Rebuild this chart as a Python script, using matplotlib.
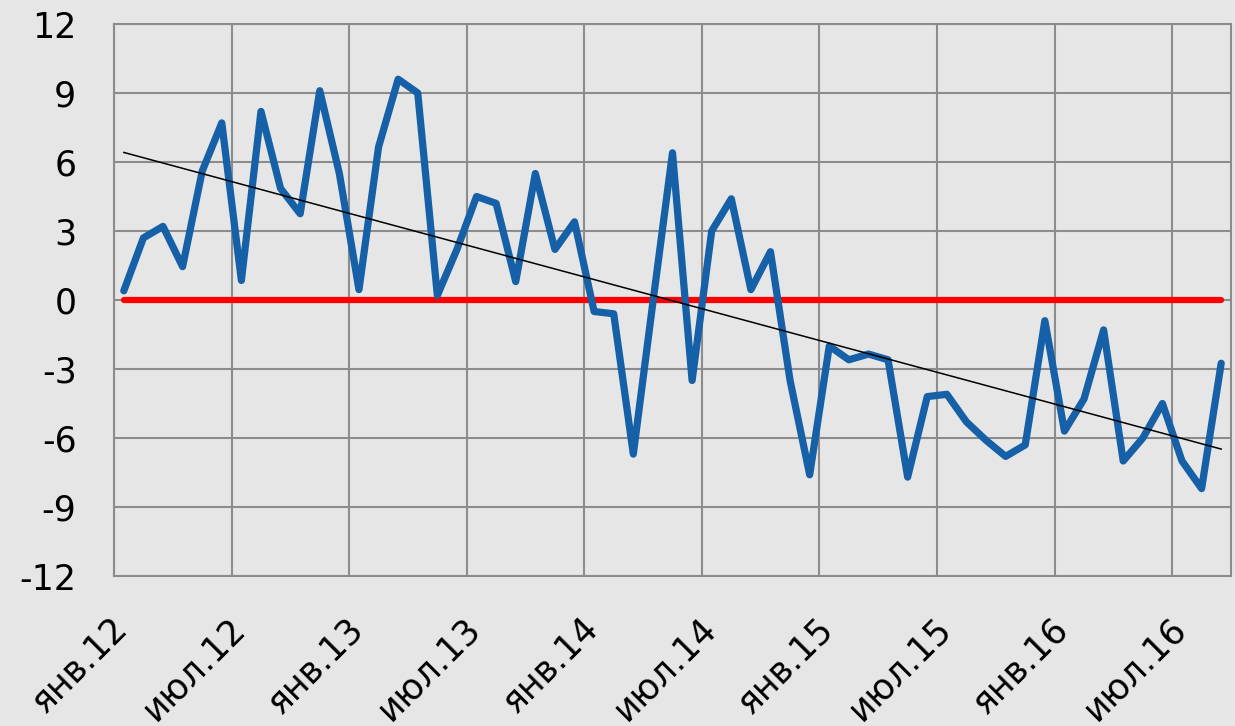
import numpy as np
import matplotlib
matplotlib.use("Agg")
import matplotlib.pyplot as plt
from matplotlib.transforms import ScaledTranslation

# Monthly values, Jan 2012 .. Sep 2016
values = [0.4, 2.7, 3.2, 1.45, 5.6, 7.7, 0.85, 8.2, 4.85, 3.75, 9.1, 5.5,
          0.45, 6.65, 9.6, 9.0, 0.2, 2.2, 4.5, 4.2, 0.8, 5.5, 2.2, 3.4,
          -0.5, -0.6, -6.7, -0.1, 6.4, -3.5, 3.0, 4.4, 0.45, 2.1, -3.5, -7.6,
          -2.0, -2.6, -2.35, -2.6, -7.7, -4.2, -4.1, -5.3, -6.1, -6.8, -6.3, -0.9,
          -5.7, -4.3, -1.3, -7.0, -6.0, -4.5, -7.0, -8.2, -2.75]
tick_labels = ["янв.12", "июл.12", "янв.13", "июл.13", "янв.14",
               "июл.14", "янв.15", "июл.15", "янв.16", "июл.16"]
y_ticks = [-12, -9, -6, -3, 0, 3, 6, 9, 12]
label_step = 6

plt.rcParams['font.family'] = ['DejaVu Sans']

W, H, DPI = 1235, 726, 100
fig = plt.figure(figsize=(W / DPI, H / DPI), dpi=DPI)
bg = '#e6e6e6'
fig.patch.set_facecolor(bg)
ax = fig.add_axes([114 / W, 1 - 576 / H, (1231 - 114) / W, (576 - 24) / H])
ax.set_facecolor('none')

n = len(values)
x = np.arange(n)
grid_c = '#8c8c8c'

ax.set_xlim(-0.5, n - 0.5)
ax.set_ylim(-12, 12)
ax.set_yticks(y_ticks)
ax.set_yticklabels([str(v) for v in y_ticks])
ax.set_xticks(np.arange(0, n, label_step)[:len(tick_labels)])
ax.set_xticklabels(tick_labels)
ax.set_xticks(np.arange(-0.5, n - 0.5, label_step), minor=True)

ax.grid(True, which='major', axis='y', color=grid_c, lw=1.5)
ax.grid(True, which='minor', axis='x', color=grid_c, lw=1.5)
ax.grid(False, which='major', axis='x')
ax.set_axisbelow(True)
for s in ax.spines.values():
    s.set_color(grid_c)
    s.set_linewidth(1.5)

ax.tick_params(axis='both', which='both', length=0)
ax.tick_params(axis='y', labelsize=25, pad=27)
ax.tick_params(axis='x', labelsize=25, pad=0)

offset = ScaledTranslation(6 / DPI, -54 / DPI, fig.dpi_scale_trans)
for lab in ax.get_xticklabels():
    lab.set_rotation(45)
    lab.set_rotation_mode('anchor')
    lab.set_ha('right')
    lab.set_va('baseline')
    lab.set_transform(lab.get_transform() + offset)

# zero line
ax.plot([x[0], x[-1]], [0, 0], color='#ff0000', lw=4.5, solid_capstyle='round', zorder=3)
# series
ax.plot(x, values, color='#1560a6', lw=5.2, solid_joinstyle='round', solid_capstyle='round', zorder=4)
# linear trend
k, b = np.polyfit(x, values, 1)
ax.plot([x[0], x[-1]], [k * x[0] + b, k * x[-1] + b], color='black', lw=1.1, zorder=5)

fig.savefig('out.png', dpi=DPI, facecolor=fig.get_facecolor())
